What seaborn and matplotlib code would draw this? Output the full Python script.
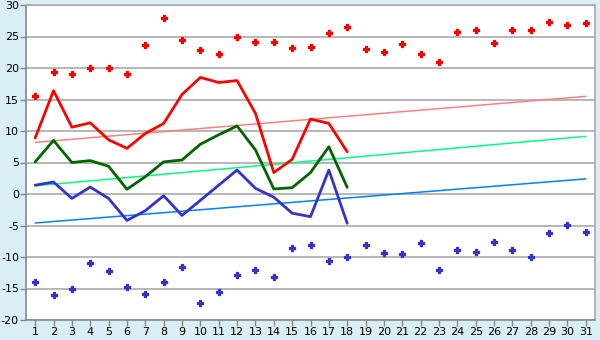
import matplotlib
matplotlib.use("Agg")
import matplotlib.pyplot as plt
import seaborn as sns
import pandas as pd

days = list(range(1, 32))
line_days = list(range(1, 19))

max_points = [15.6, 19.3, 19.0, 20.0, 20.0, 19.0, 23.6, 27.9, 24.4, 22.8,
              22.2, 25.0, 24.2, 24.2, 23.1, 23.3, 25.5, 26.5, 23.0, 22.6,
              23.8, 22.2, 20.9, 25.7, 26.1, 23.9, 26.0, 26.0, 27.25, 26.8, 27.1]
min_points = [-13.9, -16.1, -15.0, -11.0, -12.3, -14.8, -15.9, -13.9, -11.6, -17.35,
              -15.6, -12.9, -12.1, -13.2, -8.6, -8.1, -10.7, -10.05, -8.1, -9.4,
              -9.6, -7.8, -12.0, -8.9, -9.25, -7.65, -8.9, -10.0, -6.25, -4.97, -6.1]

max_line = [8.9, 16.4, 10.6, 11.3, 8.6, 7.25, 9.6, 11.2, 15.8, 18.5,
            17.7, 18.0, 12.8, 3.4, 5.5, 11.9, 11.2, 6.7]
mean_line = [5.1, 8.5, 5.0, 5.3, 4.4, 0.75, 2.75, 5.1, 5.4, 7.9,
             9.4, 10.8, 7.0, 0.8, 1.0, 3.4, 7.5, 1.05]
min_line = [1.4, 1.9, -0.7, 1.1, -0.7, -4.2, -2.65, -0.27, -3.4, -1.0,
            1.4, 3.8, 0.9, -0.5, -3.05, -3.6, 3.8, -4.65]

normal_days = [1, 31]
normal_max = [8.2, 15.5]
normal_mean = [1.3, 9.15]
normal_min = [-4.6, 2.4]

yticks = list(range(-20, 31, 5))

sns.set_theme(style="white")
plt.rcParams['font.family'] = ['DejaVu Sans']
plt.rcParams['axes.unicode_minus'] = False

bg = "#d9eef5"
fig = plt.figure(figsize=(6, 3.4), dpi=100, facecolor=bg)
ax = fig.add_axes([26/600, 20/340, 569/600, 315/340])
ax.set_facecolor("white")

for v in yticks:
    ax.axhline(v, color="#aaaaaa", lw=1.2, zorder=0)

df_norm = pd.DataFrame({"day": normal_days, "max": normal_max,
                        "mean": normal_mean, "min": normal_min})
sns.lineplot(data=df_norm, x="day", y="max", ax=ax, color="#ff8080", lw=1.1)
sns.lineplot(data=df_norm, x="day", y="mean", ax=ax, color="#00ff80", lw=1.1)
sns.lineplot(data=df_norm, x="day", y="min", ax=ax, color="#0080ff", lw=1.1)

df_line = pd.DataFrame({"day": line_days, "max": max_line,
                        "mean": mean_line, "min": min_line})
sns.lineplot(data=df_line, x="day", y="max", ax=ax, color="#ff0000", lw=2.0)
sns.lineplot(data=df_line, x="day", y="mean", ax=ax, color="#006400", lw=2.0)
sns.lineplot(data=df_line, x="day", y="min", ax=ax, color="#3333cc", lw=2.0)

df_pts = pd.DataFrame({"day": days, "max": max_points, "min": min_points})
sns.scatterplot(data=df_pts, x="day", y="max", ax=ax, color="#ff0000",
                edgecolor="#ff0000", marker="P", s=22, linewidth=0.9)
sns.scatterplot(data=df_pts, x="day", y="min", ax=ax, color="#3333cc",
                edgecolor="#3333cc", marker="P", s=22, linewidth=0.9)

ax.set_xlim(0.5, 31.5)
ax.set_ylim(-20, 30)
ax.set_xticks(days)
ax.set_xticklabels([str(d) for d in days])
ax.set_yticks(yticks)
ax.set_yticklabels([str(v) for v in yticks])
ax.set_xlabel("")
ax.set_ylabel("")
ax.tick_params(axis="both", which="both", labelsize=8, labelcolor="black",
               color="#888888", length=4, width=1, direction="out", pad=1)
ax.tick_params(axis="x", bottom=True)
ax.tick_params(axis="y", left=True)
for s in ax.spines.values():
    s.set_color("#aaaaaa")
    s.set_linewidth(1.2)
ax.spines["left"].set_color("#888888")
ax.spines["bottom"].set_color("#888888")

fig.savefig("out.png", dpi=100, facecolor=bg)
